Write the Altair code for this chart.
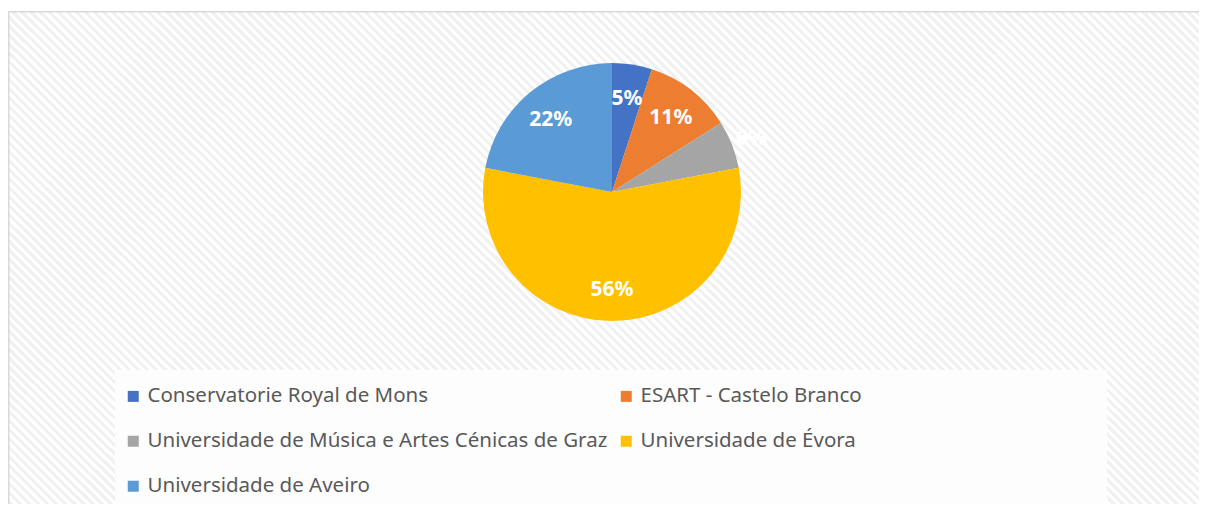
import altair as alt
import pandas as pd

categories = [
    "Conservatorie Royal de Mons",
    "ESART - Castelo Branco",
    "Universidade de Música e Artes Cénicas de Graz",
    "Universidade de Évora",
    "Universidade de Aveiro",
]
values = [5, 11, 6, 56, 22]
colors = ["#4472C4", "#ED7D31", "#A5A5A5", "#FFC000", "#5B9BD5"]

df = pd.DataFrame({
    "cat": categories,
    "val": values,
    "idx": list(range(len(categories))),
    "lab": [f"{v}%" for v in values],
})

FONT = "Noto Sans"
W, H = 1191, 496
CX, CY, R = 604, 184, 129

# background stripes (diagonal hatch) as a gradient
FW, FH = 1200, 500
r = FH / FW
k = (1 + r) / (1 + r * r)
periods = int((FW + FH) / 9)
stops = []
for i in range(periods):
    a = i / periods
    b = (i + 0.5) / periods
    c = (i + 1) / periods
    stops += [
        alt.GradientStop(offset=a, color="#ffffff"),
        alt.GradientStop(offset=b, color="#ffffff"),
        alt.GradientStop(offset=b, color="#f1f1f1"),
        alt.GradientStop(offset=c, color="#f1f1f1"),
    ]
grad = alt.LinearGradient(gradient="linear", stops=stops,
                          x1=0, y1=1, x2=k, y2=1 - k * r)

one = pd.DataFrame({"a": [0]})
frame = alt.Chart(one).mark_rect(fill=grad, stroke="#d9d9d9", strokeWidth=1.5).encode(
    x=alt.value(0.75), y=alt.value(3.75), x2=alt.value(FW), y2=alt.value(FH)
)
legbox = alt.Chart(one).mark_rect(fill="#fdfdfd").encode(
    x=alt.value(107), y=alt.value(362), x2=alt.value(1099), y2=alt.value(FH)
)

base = alt.Chart(df).encode(
    theta=alt.Theta("val:Q", stack=True),
    order=alt.Order("idx:Q"),
)

pie = base.mark_arc(outerRadius=R).encode(
    x=alt.value(CX), y=alt.value(CY),
    color=alt.Color(
        "cat:N",
        scale=alt.Scale(domain=categories, range=colors),
        sort=None,
        legend=alt.Legend(
            title=None, orient="none", legendX=115, legendY=378,
            direction="horizontal",
            columns=2, symbolType="square", symbolSize=121,
            symbolStrokeWidth=0, labelFont=FONT, labelFontSize=20.5,
            labelColor="#595959", labelOffset=4, rowPadding=24,
            columnPadding=8, labelLimit=600, padding=0,
        ),
    ),
)

labels = base.mark_text(radius=96, dy=2, font=FONT, fontSize=21, fontWeight="bold",
                        color="white").encode(
    x=alt.value(CX), y=alt.value(CY),
    text=alt.condition(alt.datum.idx != 2, "lab:N", alt.value("")),
)
labels_out = base.mark_text(radius=150, dy=2, font=FONT, fontSize=21, fontWeight="bold",
                            color="white").encode(
    x=alt.value(CX), y=alt.value(CY),
    text=alt.condition(alt.datum.idx == 2, "lab:N", alt.value("")),
)

chart = alt.layer(frame, legbox, pie, labels, labels_out).properties(
    width=W, height=H, padding=0, autosize=alt.AutoSizeParams(type="none"),
    background="white",
).configure_view(stroke=None)

chart.save("out.html", embed_options={"renderer": "svg", "actions": False})
